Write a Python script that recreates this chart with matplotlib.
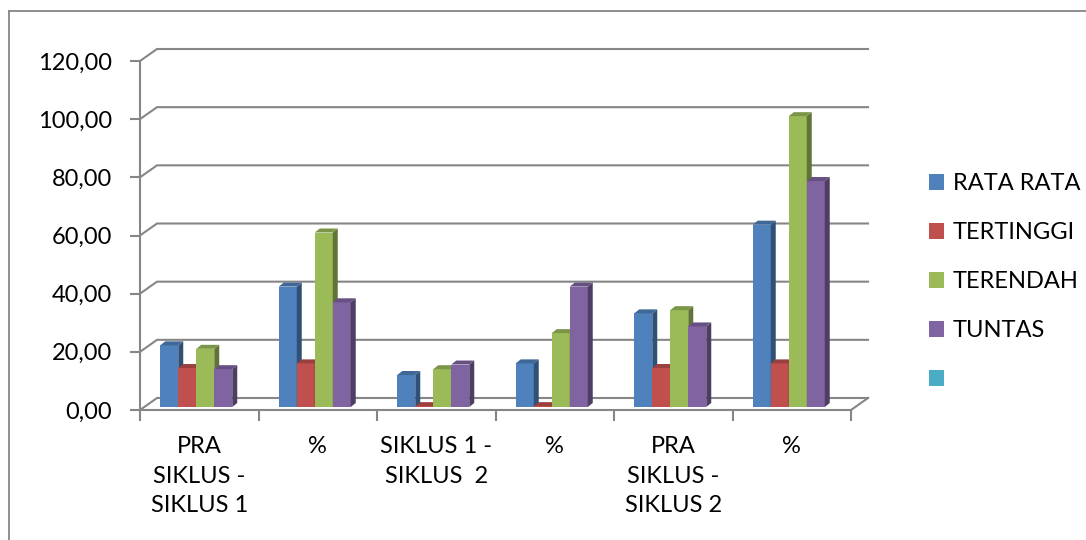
import numpy as np
import matplotlib
matplotlib.use("Agg")
import matplotlib.pyplot as plt
from matplotlib.patches import Polygon, Patch
from matplotlib.lines import Line2D

plt.rcParams['font.family'] = ['Lato', 'DejaVu Sans']

# data
kategori = ['PRA\nSIKLUS -\nSIKLUS 1', '%', 'SIKLUS 1 -\nSIKLUS  2', '%',
            'PRA\nSIKLUS -\nSIKLUS 2', '%']
rata_rata = [21.2, 41.4, 11.0, 15.0, 32.2, 62.7]
tertinggi = [13.4, 15.0, 0.3, 0.3, 13.4, 15.0]
terendah = [20.0, 60.0, 13.0, 25.4, 33.3, 100.0]
tuntas = [13.0, 36.0, 14.6, 41.4, 27.7, 77.7]
nama_seri = ['RATA RATA', 'TERTINGGI', 'TERENDAH', 'TUNTAS']
warna = ['#4F81BD', '#C0504D', '#9BBB59', '#8064A2']
yticks = [0, 20, 40, 60, 80, 100, 120]

W, H = 1086, 540
fig = plt.figure(figsize=(W / 100, H / 100), dpi=100)
# front plane of the 3d box, in pixels: x 140..851, y 410..61
ax = fig.add_axes([140 / W, (H - 410) / H, 711 / W, 349 / H])
ax.set_xlim(0, 6)
ax.set_ylim(0, 120)

pxx = 711 / 6.0    # pixels per x unit
pxy = 349 / 120.0  # pixels per y unit

abu = '#868686'
for s in ['top', 'right']:
    ax.spines[s].set_visible(False)
for s in ['left', 'bottom']:
    ax.spines[s].set_color(abu)
    ax.spines[s].set_linewidth(1.5)

# y axis
ax.set_yticks(yticks)
ax.set_yticklabels([('%.2f' % v).replace('.', ',') for v in yticks])
ax.tick_params(axis='y', length=7, width=1.5, color=abu, pad=13, labelsize=17)

# x axis: ticks on the borders, labels in the middle
ax.set_xticks(np.arange(0, 7))
ax.set_xticklabels([])
ax.set_xticks(np.arange(6) + 0.5, minor=True)
ax.set_xticklabels(kategori, minor=True, linespacing=1.5)
ax.tick_params(axis='x', which='major', length=8, width=1.5, color=abu)
ax.tick_params(axis='x', which='minor', length=0, pad=19, labelsize=17)

# back wall and floor (depth offset 17 px right, 12 px up)
ddx = 17 / pxx
ddy = 12 / pxy
for v in yticks:
    ax.plot([0, ddx, 6 + ddx], [v, v + ddy, v + ddy], color=abu, lw=1.5,
            clip_on=False, zorder=1, solid_joinstyle='miter')
ax.plot([6, 6 + ddx], [0, ddy], color=abu, lw=1.5, clip_on=False, zorder=1)

# bars
lebar = 18 / pxx
bdx = 5 / pxx
bdy = 4 / pxy
ox = -3 / pxx
oy = 3 / pxy
seri = [rata_rata, tertinggi, terendah, tuntas]


def gelap(c, f):
    r, g, b = matplotlib.colors.to_rgb(c)
    return (r * f, g * f, b * f)


z = 3
for i in range(6):
    for j in range(4):
        x0 = i + 0.5 - 2 * lebar + j * lebar + ox
        v = seri[j][i]
        ax.bar(x0, v, width=lebar, bottom=oy, align='edge', color=warna[j],
               linewidth=0, clip_on=False, zorder=z)
        samping = [(x0 + lebar, oy), (x0 + lebar + bdx, oy + bdy),
                   (x0 + lebar + bdx, oy + v + bdy), (x0 + lebar, oy + v)]
        atas = [(x0, oy + v), (x0 + lebar, oy + v),
                (x0 + lebar + bdx, oy + v + bdy), (x0 + bdx, oy + v + bdy)]
        ax.add_patch(Polygon(samping, closed=True, facecolor=gelap(warna[j], 0.62),
                             edgecolor='none', clip_on=False, zorder=z))
        ax.add_patch(Polygon(atas, closed=True, facecolor=gelap(warna[j], 0.8),
                             edgecolor='none', clip_on=False, zorder=z))
        z += 1

# legend
handles = [Patch(facecolor=c, edgecolor='none') for c in warna]
handles.append(Patch(facecolor='#4BACC6', edgecolor='none'))
labels = nama_seri + ['']
fig.legend(handles, labels, loc='upper left', bbox_to_anchor=(929 / W, 1 - 173 / H),
           frameon=False, fontsize=17, handlelength=0.65, handleheight=0.65,
           handletextpad=0.35, labelspacing=1.19, borderpad=0, borderaxespad=0)

# chart border
fig.add_artist(Line2D([9 / W, 9 / W], [0, 1 - 11 / H], color=abu, lw=1.3))
fig.add_artist(Line2D([9 / W, 1], [1 - 11 / H, 1 - 11 / H], color=abu, lw=1.3))

fig.savefig('out.png', dpi=100)
